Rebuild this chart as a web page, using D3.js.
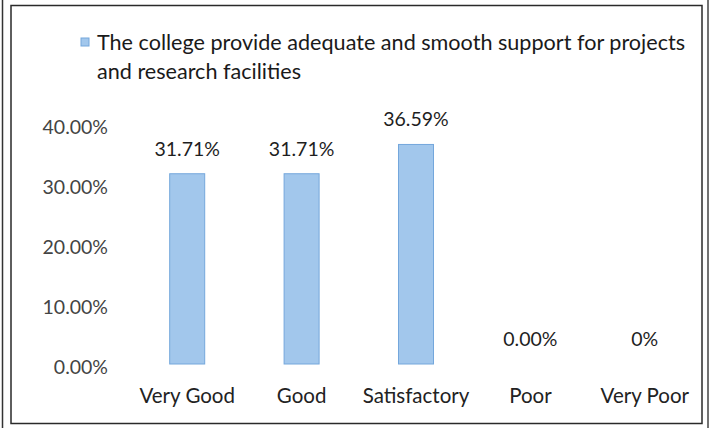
<!DOCTYPE html>
<html><head><meta charset="utf-8">
<script src="https://cdn.jsdelivr.net/npm/d3@7/dist/d3.min.js"></script>
<style>
html,body{margin:0;padding:0;background:#fff;}
svg{display:block;}
</style></head>
<body>
<svg id="chart" width="711" height="428"></svg>
<script>
const categories = ["Very Good", "Good", "Satisfactory", "Poor", "Very Poor"];
const values = [0.3171, 0.3171, 0.3659, 0, 0];
const valueLabels = ["31.71%", "31.71%", "36.59%", "0.00%", "0%"];
const yTicks = [0, 0.1, 0.2, 0.3, 0.4];
const seriesName = ["The college provide adequate and smooth support for projects", "and research facilities"];

const svg = d3.select("#chart");
const font = "Lato, 'Open Sans', sans-serif";

// frame
svg.append("line").attr("x1",2.5).attr("x2",2.5).attr("y1",0).attr("y2",428).attr("stroke","#333").attr("stroke-width",1.5);
svg.append("rect").attr("x",11).attr("y",5.5).attr("width",691).attr("height",418)
  .attr("fill","none").attr("stroke","#2a2a2a").attr("stroke-width",1.5);
svg.append("line").attr("x1",708).attr("x2",708).attr("y1",0).attr("y2",428).attr("stroke","#444").attr("stroke-width",1.5);

const x = d3.scaleBand().domain(categories).range([130, 702]).padding(0);
const y = d3.scaleLinear().domain([0, 0.4]).range([364, 124]);
const barW = x.bandwidth() * 0.306;

// y axis
const yAxis = d3.axisLeft(y).tickValues(yTicks).tickFormat(d3.format(".2%")).tickSize(0).tickPadding(0);
const gy = svg.append("g").attr("transform","translate(108,3)").call(yAxis);
gy.select(".domain").remove();
gy.selectAll("text").attr("font-family", font).attr("font-size", 19.5).attr("fill", "#444");

// bars
svg.selectAll("rect.bar").data(values).join("rect").attr("class","bar")
  .attr("x", (d,i) => x(categories[i]) + x.bandwidth()/2 - barW/2)
  .attr("y", d => y(d))
  .attr("width", barW)
  .attr("height", d => y(0) - y(d))
  .attr("fill", "#a2c7ec")
  .attr("stroke", "#74a7dc")
  .attr("stroke-width", 1);

// value labels
svg.selectAll("text.val").data(values).join("text").attr("class","val")
  .attr("x", (d,i) => x(categories[i]) + x.bandwidth()/2)
  .attr("y", d => y(d) - 25)
  .attr("dy", "0.35em")
  .attr("text-anchor","middle")
  .attr("font-family", font).attr("font-size", 19.5).attr("fill", "#1e1e1e")
  .text((d,i) => valueLabels[i]);

// x axis labels
const xAxis = d3.axisBottom(x).tickSize(0).tickPadding(0);
const gx = svg.append("g").attr("transform","translate(0,388)").call(xAxis);
gx.select(".domain").remove();
gx.selectAll("text").attr("font-family", font).attr("font-size", 20.5).attr("fill", "#222");

// legend
svg.append("rect").attr("x",81).attr("y",38).attr("width",8).attr("height",8)
  .attr("fill","#a2c7ec").attr("stroke","#74a7dc");
svg.selectAll("text.leg").data(seriesName).join("text").attr("class","leg")
  .attr("x", 97).attr("y", (d,i) => 50 + i*29)
  .attr("font-family", font).attr("font-size", 21.6).attr("fill", "#1a1a1a")
  .text(d => d);
</script>
</body></html>
